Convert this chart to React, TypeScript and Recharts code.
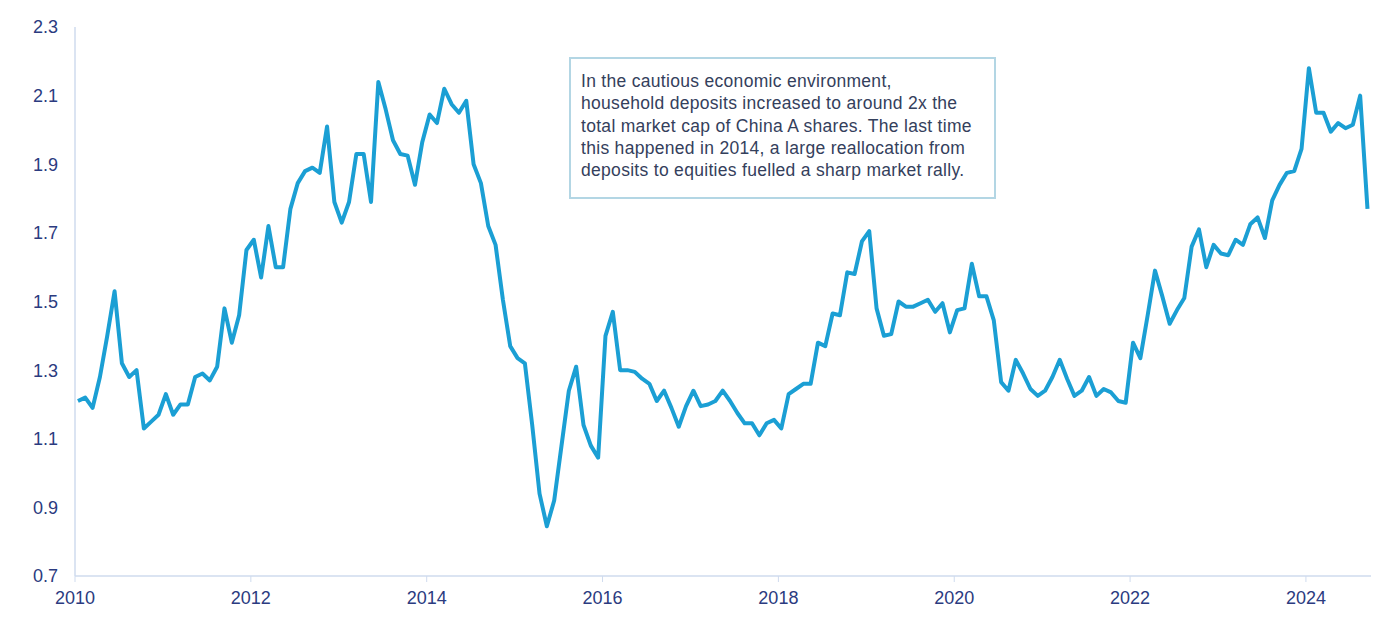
import React from "react";
import { LineChart, Line, XAxis, YAxis, ResponsiveContainer } from "recharts";

// household deposits / China A-share market cap, monthly from Jan 2010
const startYear = 2010;
const ratio = [
  1.21, 1.22, 1.19, 1.28, 1.4, 1.53, 1.32, 1.28, 1.3, 1.13, 1.15, 1.17,
  1.23, 1.17, 1.2, 1.2, 1.28, 1.29, 1.27, 1.31, 1.48, 1.38, 1.46, 1.65,
  1.68, 1.57, 1.72, 1.6, 1.6, 1.77, 1.845, 1.88, 1.89, 1.875, 2.01, 1.79,
  1.73, 1.79, 1.93, 1.93, 1.79, 2.14, 2.06, 1.97, 1.93, 1.925, 1.84, 1.965,
  2.045, 2.02, 2.12, 2.075, 2.05, 2.085, 1.9, 1.845, 1.72, 1.665, 1.505, 1.37,
  1.335, 1.32, 1.14, 0.94, 0.845, 0.92, 1.08, 1.24, 1.31, 1.14, 1.08, 1.045,
  1.4, 1.47, 1.3, 1.3, 1.295, 1.275, 1.26, 1.21, 1.24, 1.19, 1.135, 1.195,
  1.24, 1.195, 1.2, 1.21, 1.24, 1.21, 1.175, 1.145, 1.145, 1.11, 1.145, 1.155,
  1.13, 1.23, 1.245, 1.26, 1.26, 1.38, 1.37, 1.465, 1.46, 1.585, 1.58, 1.675,
  1.705, 1.48, 1.4, 1.405, 1.5, 1.485, 1.485, 1.495, 1.505, 1.47, 1.495, 1.41,
  1.475, 1.48, 1.61, 1.515, 1.515, 1.445, 1.265, 1.24, 1.33, 1.29, 1.245, 1.225,
  1.24, 1.28, 1.33, 1.275, 1.225, 1.24, 1.28, 1.225, 1.245, 1.235, 1.21, 1.205,
  1.38, 1.335, 1.46, 1.59, 1.515, 1.435, 1.475, 1.51, 1.66, 1.71, 1.6, 1.665,
  1.64, 1.635, 1.68, 1.665, 1.725, 1.745, 1.685, 1.795, 1.84, 1.875, 1.88, 1.945,
  2.18, 2.05, 2.05, 1.995, 2.02, 2.005, 2.015, 2.1, 1.77,
];

const yearTicks = [2010, 2012, 2014, 2016, 2018, 2020, 2022, 2024];
const valueTicks = [0.7, 0.9, 1.1, 1.3, 1.5, 1.7, 1.9, 2.1, 2.3];

const noteLines = [
  "In the cautious economic environment,",
  "household deposits increased to around 2x the",
  "total market cap of China A shares. The last time",
  "this happened in 2014, a large reallocation from",
  "deposits to equities fuelled a sharp market rally.",
];

const data = ratio.map((value, i) => ({
  date: startYear + (i + 0.4) / 12,
  value,
}));

const font = '"Liberation Sans", Arial, sans-serif';
const labelColor = "#2b3b80";
const axisColor = "#cfdbee";

const App = () => {
  return (
    <div style={{ position: "absolute", left: 0, top: 0, width: 1388, height: 628, background: "#fff", fontFamily: font }}>
      <ResponsiveContainer width="100%" height="100%">
        <LineChart data={data} margin={{ top: 27, right: 17, left: 0, bottom: 22 }}>
          <XAxis
            dataKey="date"
            type="number"
            domain={[2010, 2024.74]}
            allowDataOverflow
            ticks={yearTicks}
            tickFormatter={(v) => String(Math.round(v))}
            tick={{ fontSize: 18, fill: labelColor, fontFamily: font }}
            axisLine={{ stroke: axisColor, strokeWidth: 1.5 }}
            tickLine={{ stroke: axisColor }}
            tickSize={6}
            tickMargin={9}
            height={30}
          />
          <YAxis
            type="number"
            domain={[0.7, 2.3]}
            ticks={valueTicks}
            tickFormatter={(v) => v.toFixed(1)}
            tick={{ fontSize: 18, fill: labelColor, fontFamily: font }}
            axisLine={{ stroke: axisColor, strokeWidth: 1.5 }}
            tickLine={false}
            tickSize={0}
            tickMargin={17}
            width={75}
          />
          <Line
            type="linear"
            dataKey="value"
            stroke="#1b9fd4"
            strokeWidth={4}
            dot={false}
            strokeLinejoin="round"
            isAnimationActive={false}
          />
        </LineChart>
      </ResponsiveContainer>
      <div
        style={{
          position: "absolute",
          left: 569,
          top: 57,
          width: 427,
          height: 142,
          boxSizing: "border-box",
          border: "2px solid #b3d6e4",
          background: "#fff",
          padding: "11px 0 0 10px",
          fontSize: 17.5,
          letterSpacing: 0.3,
          lineHeight: "22.3px",
          color: "#34405c",
          whiteSpace: "nowrap",
        }}
      >
        {noteLines.map((line) => (
          <div key={line}>{line}</div>
        ))}
      </div>
    </div>
  );
};

export default App;
